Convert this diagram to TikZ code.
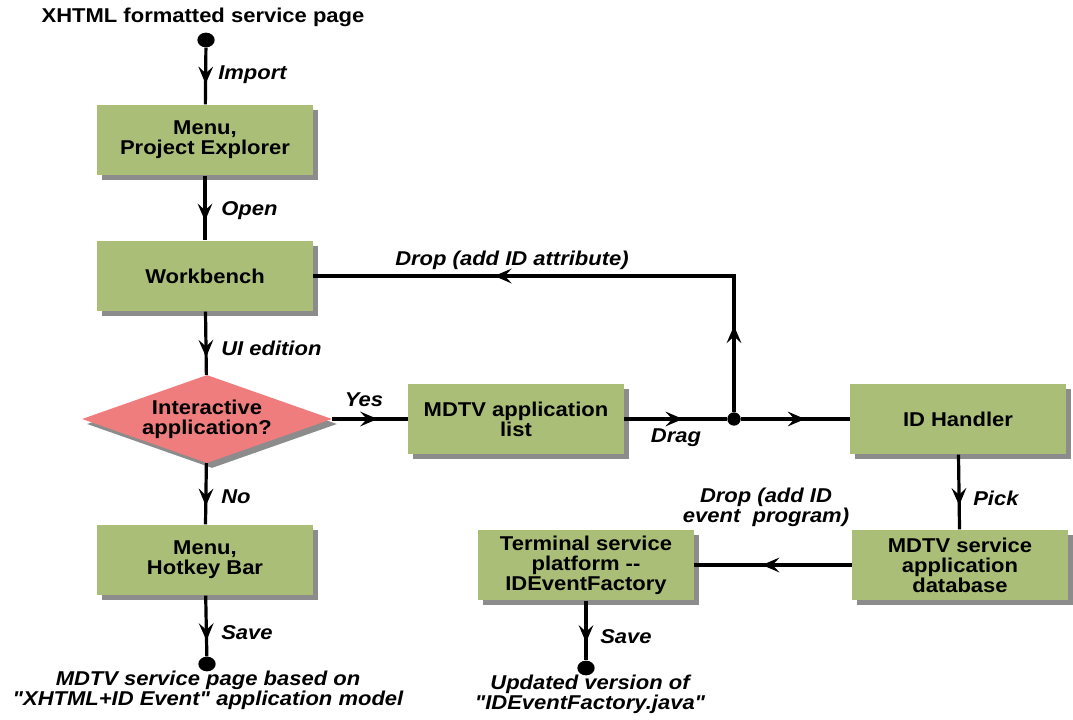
\documentclass[tikz,border=0pt]{standalone}
\usepackage{fontspec}
\setmainfont{Liberation Sans}[FakeStretch=1.1,Ligatures=TeXOff]
\usetikzlibrary{shapes.geometric,shadows,decorations.markings,arrows.meta}
\definecolor{boxgreen}{RGB}{170,190,120}
\definecolor{decred}{RGB}{240,125,125}
\definecolor{shadowgrey}{RGB}{140,140,140}
\begin{document}
\begin{tikzpicture}[x=0.75pt,y=-0.75pt,
  every node/.style={font=\fontsize{15}{15}\selectfont\bfseries},
  boxshadow/.style={drop shadow={shadow xshift=3.75pt,shadow yshift=-3.75pt,fill=shadowgrey,opacity=1}},
  stepbox/.style={rectangle,fill=boxgreen,minimum width=162pt,minimum height=53pt,
    inner sep=0pt,align=center,boxshadow},
  decision/.style={diamond,fill=decred,aspect=2.78,minimum width=187.5pt,minimum height=66pt,
    inner sep=0pt,align=center,boxshadow},
  enddot/.style={ellipse,fill=black,minimum width=13pt,minimum height=11pt,inner sep=0pt},
  joint/.style={circle,fill=black,minimum size=10pt,inner sep=0pt},
  lbl/.style={font=\fontsize{15}{15}\selectfont\bfseries\itshape,inner sep=0pt,align=center},
  flow/.style={line width=2.4pt},
  flowtip/.tip={Stealth[length=13pt,width=11pt,inset=5pt]},
  arrowat/.style={postaction={decorate},
    decoration={markings,mark=at position #1 with {\arrow{flowtip}}}},
]
\fill[white] (0,0) rectangle (1073,720);
\useasboundingbox (0,0) rectangle (1073,720);

% main column
\node (src) at (203,17) {XHTML formatted service page};
\node[enddot] (d0) at (206,40) {};
\node[stepbox] (pe) at (205,140) {Menu,\\Project Explorer};
\node[stepbox] (wb) at (205,276) {Workbench};
\node[decision] (q) at (207,419) {Interactive\\application?};
\node[stepbox] (hk) at (205,560) {Menu,\\Hotkey Bar};
\node[enddot] (d1) at (207,664) {};
\node[lbl] (out1) at (208,690) {MDTV service page based on\\"XHTML+ID Event" application model};

% right part
\node[stepbox] (al) at (516,419) {MDTV application\\list};
\node[joint] (j) at (734,419) {};
\node[stepbox] (idh) at (958,419) {ID Handler};
\node[stepbox] (db) at (960,565) {MDTV service\\application\\database};
\node[stepbox] (ts) at (586,565) {Terminal service\\platform {-}{-}\\IDEventFactory};
\node[enddot] (d2) at (586,668) {};
\node[lbl] (out2) at (590,694) {Updated version of\\"IDEventFactory.java"};

% connectors
\draw[flow,arrowat=0.64] (d0) -- (pe);
\draw[flow,arrowat=0.7] (pe) -- (wb);
\draw[flow,arrowat=0.72] (wb) -- (q);
\draw[flow,arrowat=0.6] (q) -- (al);
\draw[flow,arrowat=0.7] (q) -- (hk);
\draw[flow,arrowat=0.74] (hk) -- (d1);
\draw[flow,arrowat=0.57] (al) -- (j);
\draw[flow,arrowat=0.59] (j) -- (idh);
\draw[flow,postaction={decorate},decoration={markings,
    mark=at position 0.155 with {\arrow{flowtip}},
    mark=at position 0.675 with {\arrow{flowtip}}}] (j) |- (wb);
\draw[flow,arrowat=0.68] (idh) -- (db);
\draw[flow,arrowat=0.57] (db) -- (ts);
\draw[flow,arrowat=0.7] (ts) -- (d2);

% connector labels
\node[lbl,anchor=west] (limport) at (218,75) {Import};
\node[lbl,anchor=west] (lopen) at (221,211) {Open};
\node[lbl,anchor=west] (lui) at (221,348) {UI edition};
\node[lbl] (lyes) at (364,400) {Yes};
\node[lbl,anchor=west] (lno) at (221,497) {No};
\node[lbl,anchor=west] (lsave1) at (221,633) {Save};
\node[lbl] (ldrop1) at (512,260) {Drop (add ID attribute)};
\node[lbl] (ldrag) at (676,438) {Drag};
\node[lbl,anchor=west] (lpick) at (973,498) {Pick};
\node[lbl] (ldrop2) at (766,507) {Drop (add ID\\event~\ program)};
\node[lbl,anchor=west] (lsave2) at (600,637) {Save};
\end{tikzpicture}
\end{document}
